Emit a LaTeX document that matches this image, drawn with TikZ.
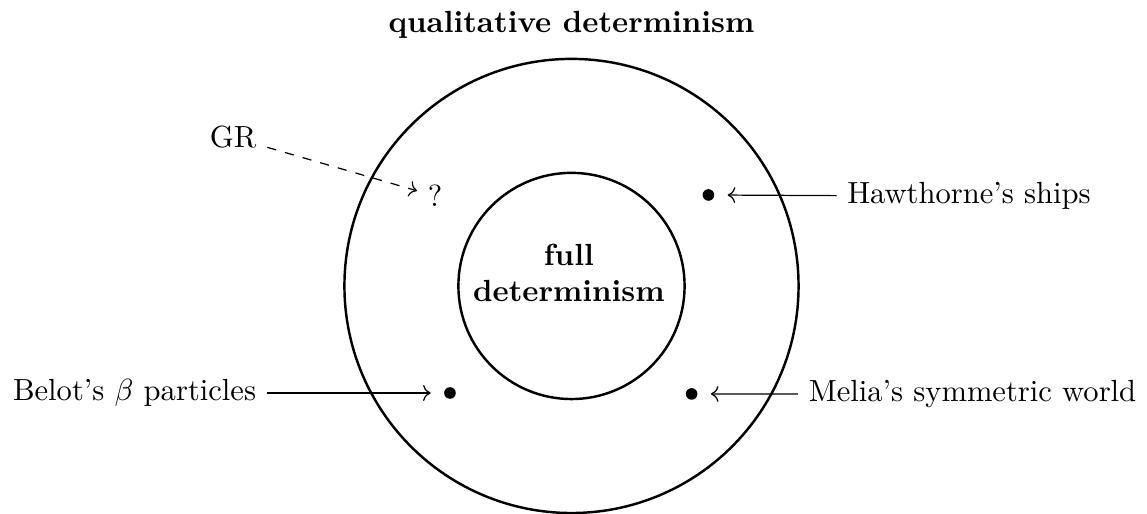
\documentclass[tikz,border=0pt]{standalone}
\usepackage{amsmath}
\usepackage{amssymb}
\usetikzlibrary{arrows.meta,calc,positioning}

\begin{document}
\begin{tikzpicture}[font=\normalsize,
  ring/.style={thick},
  dot/.style={circle, fill=black, inner sep=0pt, minimum size=3.8pt},
  pointer/.style={->, thin, shorten >=4.2pt}]
  \useasboundingbox (-6.569,-2.62) rectangle (6.615,3.287);

  % Nested regions
  \draw[ring] (0,0) circle (2.61);
  \draw[ring] (0,0) circle (1.30);
  \node[font=\bfseries] (qual) at (0,3.006) {qualitative determinism};
  \node[font=\bfseries, align=center] (full) at (-0.03,0.15) {full\\determinism};

  % Examples
  \node (Q) at (-1.569,1.034) {?};
  \node (dotH) [dot] at (1.574,1.046) {};
  \node (dotB) [dot] at (-1.397,-1.23) {};
  \node (dotM) [dot] at (1.381,-1.241) {};

  % Labels
  \node (GR) at (-3.888,1.707) {GR};
  \node[anchor=west] (haw) at (3.046,1.03) {Hawthorne's ships};
  \node[anchor=east] (belot) at (-3.501,-1.23) {Belot's $\beta$ particles};
  \node[anchor=west] (melia) at (2.603,-1.24) {Melia's symmetric world};

  % Pointers
  \draw[->, thin, dashed] (GR) -- (Q);
  \draw[pointer] (haw) -- (dotH);
  \draw[pointer] (belot) -- (dotB);
  \draw[pointer] (melia) -- (dotM);
\end{tikzpicture}
\end{document}
